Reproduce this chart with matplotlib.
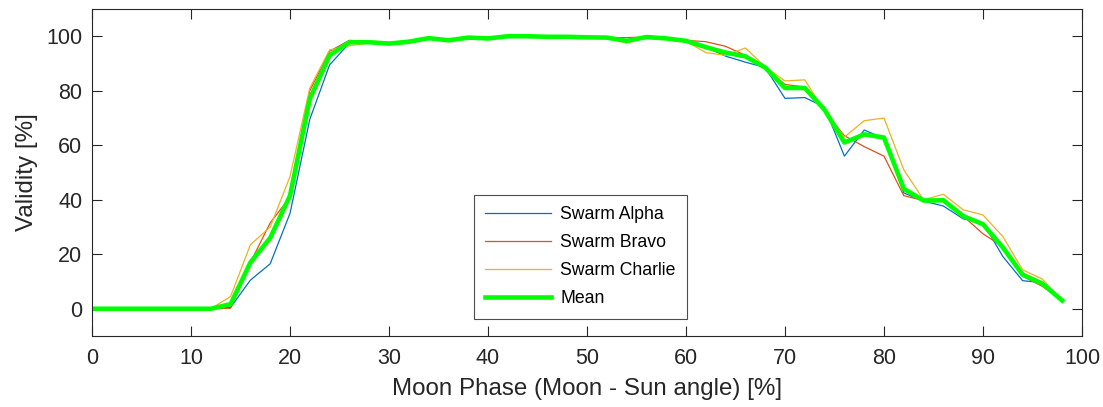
import numpy as np
import matplotlib
matplotlib.use("Agg")
import matplotlib.pyplot as plt

# Moon phase bins (Moon - Sun angle, %)
moon_phase = list(range(0, 100, 2))

swarm_alpha = [0, 0, 0, 0, 0, 0, 0, 0.5, 10.5, 16.5,
               35, 69.5, 89.5, 97.5, 98, 97.5, 98, 99.3, 98.5, 99.5,
               99.2, 100, 100, 99.8, 99.8, 99.6, 99.5, 98, 99.7, 99.2,
               98, 96, 92.7, 90.5, 88.5, 77.2, 77.5, 74, 56, 65.6,
               62.5, 42.5, 39.5, 37.7, 33, 31.6, 19.2, 10.3, 9.6, 3]

swarm_bravo = [0, 0, 0, 0, 0, 0, 0, 0.2, 17, 31.5,
               41, 80, 94.5, 98.5, 98, 97, 97.5, 99.3, 98.5, 99.5,
               99.2, 100, 100, 99.8, 99.8, 99.6, 99.5, 99.5, 99.7, 99.2,
               98.5, 98, 96.3, 93, 88.5, 82.3, 81.4, 72.5, 63.5, 59.5,
               56, 41.5, 39.7, 39.5, 34, 27.5, 22.8, 12, 8.2, 3]

swarm_charlie = [0, 0, 0, 0, 0, 0, 0, 4.5, 23.5, 30,
                 48.5, 81, 95, 96.5, 97.5, 97.5, 98.5, 99.3, 98.5, 99.5,
                 99.2, 100, 100, 99.8, 99.8, 99.6, 99.5, 97.5, 99.7, 99.2,
                 98.2, 94, 93, 95.7, 88.8, 83.6, 84, 72.5, 63, 69,
                 70, 51, 40, 42, 36.3, 34.4, 26.5, 14.3, 10.9, 3]

mean_validity = [0, 0, 0, 0, 0, 0, 0, 1.7, 17, 26,
                 41.5, 77, 93, 97.8, 97.8, 97.3, 98, 99.3, 98.5, 99.5,
                 99.2, 100, 100, 99.8, 99.8, 99.6, 99.5, 98.3, 99.7, 99.2,
                 98.3, 96, 94, 92.6, 88.5, 81, 81, 73, 61, 64,
                 62.8, 44, 39.7, 39.8, 34, 31, 22.5, 12.5, 9.2, 3]

series_labels = ["Swarm Alpha", "Swarm Bravo", "Swarm Charlie", "Mean"]
x_ticks = [0, 10, 20, 30, 40, 50, 60, 70, 80, 90, 100]
y_ticks = [0, 20, 40, 60, 80, 100]

plt.rcParams["font.family"] = ["Liberation Sans", "DejaVu Sans"]
ink = "#262626"

fig = plt.figure(figsize=(11.03, 4.07), dpi=100)
ax = fig.add_axes([92 / 1103, 1 - 336 / 407, (1082 - 92) / 1103, (336 - 9) / 407])

ax.plot(moon_phase, swarm_alpha, color="#0072BD", lw=0.9, label=series_labels[0])
ax.plot(moon_phase, swarm_bravo, color="#D95319", lw=0.9, label=series_labels[1])
ax.plot(moon_phase, swarm_charlie, color="#EDB120", lw=0.9, label=series_labels[2])
ax.plot(moon_phase, mean_validity, color="#00FF00", lw=3.3, label=series_labels[3])

ax.set_xlim(0, 100)
ax.set_ylim(-10, 110)
ax.set_xticks(x_ticks)
ax.set_yticks(y_ticks)

for side in ax.spines.values():
    side.set_color(ink)
    side.set_linewidth(0.8)

ax.tick_params(axis="both", which="both", direction="in", length=7, width=0.8,
               color=ink, labelcolor=ink, labelsize=15.5,
               top=True, right=True)
ax.tick_params(axis="x", pad=9)
ax.tick_params(axis="y", pad=7)

ax.set_xlabel("Moon Phase (Moon - Sun angle) [%]", fontsize=17.4, color=ink, labelpad=6)
ax.set_ylabel("Validity [%]", fontsize=17.4, color=ink, labelpad=6)

leg = ax.legend(loc="upper left", bbox_to_anchor=(474 / 1103, 1 - 195 / 407),
                bbox_transform=fig.transFigure, borderaxespad=0,
                fontsize=12.7, frameon=True, fancybox=False,
                handlelength=3.7, handletextpad=0.55, labelspacing=0.62,
                borderpad=0.65)
leg.get_frame().set_edgecolor("#4d4d4d")
leg.get_frame().set_linewidth(0.8)
leg.get_frame().set_alpha(1)
for t in leg.get_texts():
    t.set_color("black")

fig.savefig("out.png", dpi=100)
